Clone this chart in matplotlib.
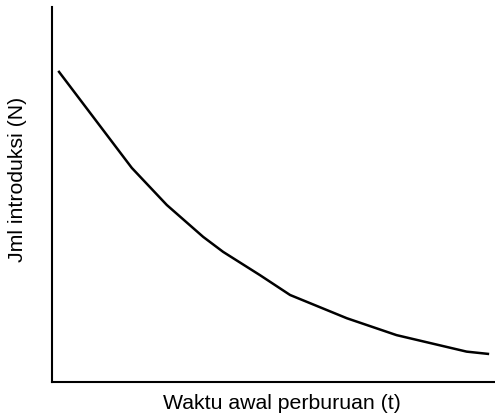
import matplotlib
matplotlib.use('Agg')
import matplotlib.pyplot as plt

# hunting start time vs number introduced (no scale given, arbitrary units)
t_vals = [1.7, 18.1, 26.0, 34.2, 38.7, 47.0, 53.8, 66.6, 77.8, 93.6, 98.4]
n_vals = [82.7, 57.1, 47.2, 38.7, 34.7, 28.5, 23.2, 17.0, 12.5, 8.1, 7.5]

plt.rcParams['font.family'] = ['Liberation Sans', 'DejaVu Sans']

fig = plt.figure(figsize=(4.95, 4.2), dpi=100)
ax = fig.add_axes([51.5 / 495, 1 - 382 / 420, (495 - 51.5) / 495, (382 - 7) / 420])

ax.plot(t_vals, n_vals, color='black', linewidth=1.8)
ax.set_xlim(0, 100)
ax.set_ylim(0, 100)

ax.spines['top'].set_visible(False)
ax.spines['right'].set_visible(False)
for s in ('left', 'bottom'):
    ax.spines[s].set_linewidth(1.5)
ax.set_xticks([])
ax.set_yticks([])

ax.set_xlabel('Waktu awal perburuan (t)', fontsize=15.3)
ax.set_ylabel('Jml introduksi (N)', fontsize=15.3)
ax.xaxis.set_label_coords(0.519, -0.032)
ax.yaxis.set_label_coords(-0.055, 0.54)

fig.savefig('out.png', dpi=100)
